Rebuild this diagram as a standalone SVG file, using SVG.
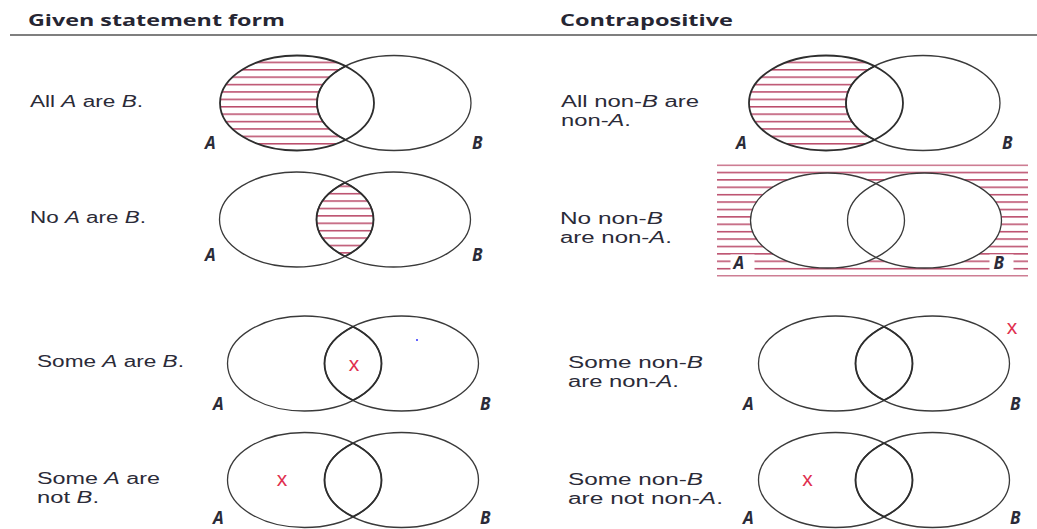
<svg xmlns="http://www.w3.org/2000/svg" xmlns:xlink="http://www.w3.org/1999/xlink" width="1037" height="529" viewBox="0 0 1037 529">
<style>
.h{font-family:"Open Sans","Noto Sans",sans-serif;font-weight:bold;font-size:16.5px;fill:#262633}
.t{font-family:"Liberation Sans",Arial,sans-serif;font-size:16px;fill:#2b2b38}
.i{font-style:italic}
.lbl{font-family:"Open Sans","Noto Sans",sans-serif;font-style:italic;font-weight:bold;font-size:17px;fill:#2b2b38}
.c{fill:none;stroke:#3a3a3a;stroke-width:1.3}
.k{fill:none;stroke:#2e2e2e;stroke-width:1.8}
.x{font-family:"Liberation Sans",Arial,sans-serif;font-size:21px;fill:#e0304f;text-anchor:middle}
</style>
<defs>
<ellipse id="ea" cx="0" cy="0" rx="77" ry="47.5"/>
<ellipse id="eb" cx="97" cy="0" rx="77" ry="47.5"/>
<clipPath id="cA"><use xlink:href="#ea"/></clipPath>
<clipPath id="cB"><use xlink:href="#eb"/></clipPath>
<pattern id="hatch" patternUnits="userSpaceOnUse" x="0" y="-56.2" width="20" height="7.4">
<rect x="0" y="0.2" width="20" height="1.2" fill="#a81a42"/>
</pattern>
<mask id="mAnotB" maskUnits="userSpaceOnUse" x="-100" y="-70" width="300" height="140">
<use xlink:href="#ea" fill="white"/>
<use xlink:href="#eb" fill="black"/>
</mask>
</defs>
<rect width="1037" height="529" fill="#ffffff"/>

<g id="header">
<text class="h" x="28" y="26" textLength="257" lengthAdjust="spacingAndGlyphs">Given statement form</text>
<text class="h" x="560" y="26" textLength="173" lengthAdjust="spacingAndGlyphs">Contrapositive</text>
<line x1="10" y1="35" x2="1037" y2="35" stroke="#555" stroke-width="1.4"/>
</g>

<g id="statements">
<text class="t" x="30" y="107" textLength="113" lengthAdjust="spacingAndGlyphs">All <tspan class="i">A</tspan> are <tspan class="i">B</tspan>.</text>
<text class="t" x="30" y="223" textLength="116" lengthAdjust="spacingAndGlyphs">No <tspan class="i">A</tspan> are <tspan class="i">B</tspan>.</text>
<text class="t" x="37" y="367" textLength="147" lengthAdjust="spacingAndGlyphs">Some <tspan class="i">A</tspan> are <tspan class="i">B</tspan>.</text>
<text class="t" x="37" y="484" textLength="123" lengthAdjust="spacingAndGlyphs">Some <tspan class="i">A</tspan> are</text>
<text class="t" x="37" y="503" textLength="62" lengthAdjust="spacingAndGlyphs">not <tspan class="i">B</tspan>.</text>
<text class="t" x="561" y="107" textLength="138" lengthAdjust="spacingAndGlyphs">All non-<tspan class="i">B</tspan> are</text>
<text class="t" x="561" y="126" textLength="70" lengthAdjust="spacingAndGlyphs">non-<tspan class="i">A</tspan>.</text>
<text class="t" x="560" y="224" textLength="103" lengthAdjust="spacingAndGlyphs">No non-<tspan class="i">B</tspan></text>
<text class="t" x="560" y="243" textLength="112" lengthAdjust="spacingAndGlyphs">are non-<tspan class="i">A</tspan>.</text>
<text class="t" x="568" y="368" textLength="135" lengthAdjust="spacingAndGlyphs">Some non-<tspan class="i">B</tspan></text>
<text class="t" x="568" y="387" textLength="111" lengthAdjust="spacingAndGlyphs">are non-<tspan class="i">A</tspan>.</text>
<text class="t" x="568" y="485" textLength="135" lengthAdjust="spacingAndGlyphs">Some non-<tspan class="i">B</tspan></text>
<text class="t" x="568" y="504" textLength="155" lengthAdjust="spacingAndGlyphs">are not non-<tspan class="i">A</tspan>.</text>
</g>

<g id="venn-all-given" transform="translate(297,103)">
<rect x="-80" y="-50" width="132" height="100" fill="url(#hatch)" mask="url(#mAnotB)"/>
<use xlink:href="#eb" class="c"/>
<use xlink:href="#ea" class="k"/>
<use xlink:href="#eb" class="k" clip-path="url(#cA)"/>
<text class="lbl" x="-92" y="46">A</text>
<text class="lbl" x="175" y="46">B</text>
</g>

<g id="venn-all-contra" transform="translate(826,103)">
<rect x="-80" y="-50" width="132" height="100" fill="url(#hatch)" mask="url(#mAnotB)"/>
<use xlink:href="#eb" class="c"/>
<use xlink:href="#ea" class="k"/>
<use xlink:href="#eb" class="k" clip-path="url(#cA)"/>
<text class="lbl" x="-90" y="46">A</text>
<text class="lbl" x="176" y="46">B</text>
</g>

<g id="venn-no-given" transform="translate(296.5,219.5)">
<use xlink:href="#eb" fill="url(#hatch)" clip-path="url(#cA)"/>
<use xlink:href="#ea" class="c"/>
<use xlink:href="#eb" class="c"/>
<use xlink:href="#eb" class="k" clip-path="url(#cA)"/>
<use xlink:href="#ea" class="k" clip-path="url(#cB)"/>
<text class="lbl" x="-91.5" y="41">A</text>
<text class="lbl" x="175.5" y="41">B</text>
</g>

<g id="venn-no-contra" transform="translate(827.5,220.5)">
<rect x="-110.5" y="-56" width="311" height="112" fill="url(#hatch)"/>
<use xlink:href="#ea" fill="#ffffff"/>
<use xlink:href="#eb" fill="#ffffff"/>
<use xlink:href="#ea" class="c"/>
<use xlink:href="#eb" class="c"/>
<rect x="-97" y="34" width="24" height="16" fill="#ffffff"/>
<rect x="162" y="34" width="24" height="16" fill="#ffffff"/>
<text class="lbl" x="-94" y="48">A</text>
<text class="lbl" x="166" y="48">B</text>
</g>

<g id="venn-some-given" transform="translate(304.5,363.5)">
<use xlink:href="#ea" class="c"/>
<use xlink:href="#eb" class="c"/>
<use xlink:href="#eb" class="k" clip-path="url(#cA)"/>
<use xlink:href="#ea" class="k" clip-path="url(#cB)"/>
<text class="x" x="49.5" y="7.5">x</text>
<circle cx="112.5" cy="-23.5" r="1" fill="#3030ff"/>
<text class="lbl" x="-91.5" y="46.5">A</text>
<text class="lbl" x="175.5" y="46.5">B</text>
</g>

<g id="venn-some-contra" transform="translate(835.5,363.5)">
<use xlink:href="#ea" class="c"/>
<use xlink:href="#eb" class="c"/>
<use xlink:href="#eb" class="k" clip-path="url(#cA)"/>
<use xlink:href="#ea" class="k" clip-path="url(#cB)"/>
<text class="x" x="176.5" y="-29.5">x</text>
<text class="lbl" x="-92.5" y="46.5">A</text>
<text class="lbl" x="174.5" y="46.5">B</text>
</g>

<g id="venn-somenot-given" transform="translate(304.5,480)">
<use xlink:href="#ea" class="c"/>
<use xlink:href="#eb" class="c"/>
<use xlink:href="#eb" class="k" clip-path="url(#cA)"/>
<use xlink:href="#ea" class="k" clip-path="url(#cB)"/>
<text class="x" x="-22.5" y="6">x</text>
<text class="lbl" x="-91.5" y="44">A</text>
<text class="lbl" x="175.5" y="44">B</text>
</g>

<g id="venn-somenot-contra" transform="translate(835.5,480)">
<use xlink:href="#ea" class="c"/>
<use xlink:href="#eb" class="c"/>
<use xlink:href="#eb" class="k" clip-path="url(#cA)"/>
<use xlink:href="#ea" class="k" clip-path="url(#cB)"/>
<text class="x" x="-28" y="6">x</text>
<text class="lbl" x="-92.5" y="44">A</text>
<text class="lbl" x="174.5" y="44">B</text>
</g>

<g id="connectors"></g>
</svg>
